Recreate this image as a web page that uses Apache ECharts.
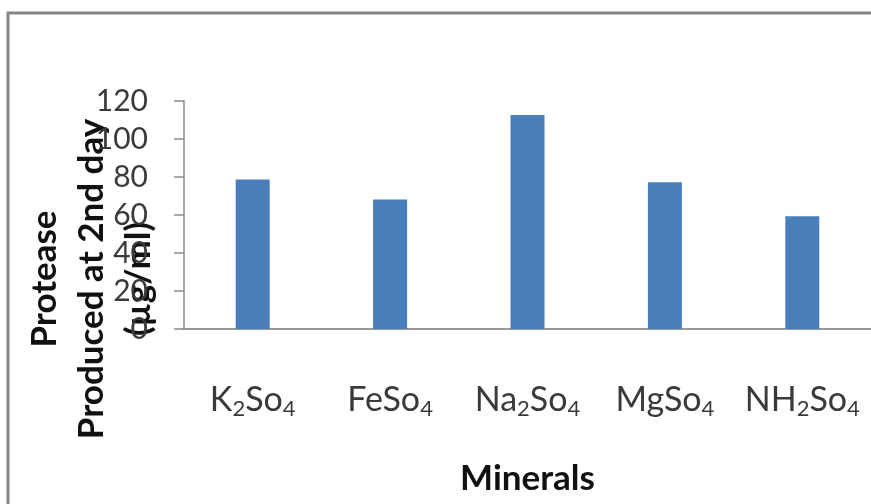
<!DOCTYPE html>
<html>
<head>
<meta charset="utf-8">
<script src="https://cdn.jsdelivr.net/npm/echarts@6/dist/echarts.min.js"></script>
<style>
  html, body { margin: 0; padding: 0; background: #fff; }
  #chart { width: 871px; height: 504px; }
</style>
</head>
<body>
<div id="chart"></div>
<script>
// Minerals tested and the protease produced on day 2 (µg/ml)
const minerals = ['K2So4', 'FeSo4', 'Na2So4', 'MgSo4', 'NH2So4'];
// Rich-text pieces of each mineral label: [text, isSubscript]
const mineralParts = [
  [['K', 0], ['2', 1], ['So', 0], ['4', 1]],
  [['FeSo', 0], ['4', 1]],
  [['Na', 0], ['2', 1], ['So', 0], ['4', 1]],
  [['MgSo', 0], ['4', 1]],
  [['NH', 0], ['2', 1], ['So', 0], ['4', 1]]
];
const protease = [78.7, 68.2, 112.6, 77.3, 59.4];
const yTicks = [0, 20, 40, 60, 80, 100, 120];

const FONT = 'Lato, "Open Sans", sans-serif';

const richLabels = {};
minerals.forEach((m, i) => {
  richLabels[m] = mineralParts[i]
    .map(([t, sub]) => '{' + (sub ? 's' : 'n') + '|' + t + '}')
    .join('');
});

const chart = echarts.init(document.getElementById('chart'), null, { renderer: 'canvas' });

chart.setOption({
  backgroundColor: '#ffffff',
  animation: false,
  graphic: [
    {
      type: 'rect',
      shape: { x: 8, y: 13, width: 880, height: 520 },
      style: { fill: 'none', stroke: '#858585', lineWidth: 3 },
      silent: true,
      z: 0
    }
  ],
  grid: {
    left: 184, right: 0, top: 101, bottom: 175,
    containLabel: false, outerBoundsMode: 'none'
  },
  xAxis: {
    type: 'category',
    data: minerals,
    name: 'Minerals',
    nameLocation: 'middle',
    nameGap: 132,
    nameMoveOverlap: false,
    nameTextStyle: { fontFamily: FONT, fontSize: 35, fontWeight: 'bold', color: '#111' },
    axisLine: { show: true, lineStyle: { color: '#9a9a9a', width: 2 } },
    axisTick: { show: false },
    axisLabel: {
      interval: 0,
      hideOverlap: false,
      margin: 51,
      formatter: v => richLabels[v],
      rich: {
        n: { fontFamily: FONT, fontSize: 34, color: '#3a3a3a', lineHeight: 40, verticalAlign: 'middle' },
        s: { fontFamily: FONT, fontSize: 22, color: '#3a3a3a', lineHeight: 40, verticalAlign: 'bottom' }
      }
    }
  },
  yAxis: {
    type: 'value',
    min: yTicks[0],
    max: yTicks[yTicks.length - 1],
    interval: yTicks[1] - yTicks[0],
    name: 'Protease\nProduced at 2nd day\n(µg/ml)',
    nameLocation: 'middle',
    nameRotate: 90,
    nameGap: 22,
    nameMoveOverlap: false,
    nameTextStyle: {
      fontFamily: FONT, fontSize: 35, fontWeight: 'bold', color: '#111',
      lineHeight: 47, padding: [0, 128, 0, 0]
    },
    axisLine: { show: true, lineStyle: { color: '#8a8a8a', width: 1.5 } },
    axisTick: { show: true, length: 10, lineStyle: { color: '#8a8a8a', width: 1.5 } },
    splitLine: { show: false },
    axisLabel: { margin: 36, fontFamily: FONT, fontSize: 30, color: '#3a3a3a' }
  },
  series: [
    {
      type: 'bar',
      data: protease,
      barWidth: 34,
      itemStyle: { color: '#4a7ebb' }
    }
  ]
});
</script>
</body>
</html>
